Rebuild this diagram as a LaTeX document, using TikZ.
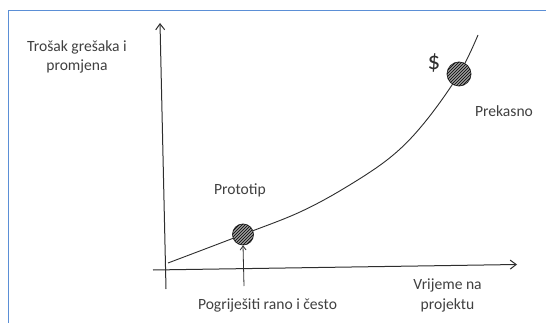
\documentclass[tikz,border=0pt]{standalone}
\usepackage{fontspec}
\setmainfont{Carlito}
\usetikzlibrary{arrows.meta,patterns}
\definecolor{frameblue}{HTML}{5B8FD6}
\definecolor{txt}{HTML}{404040}
\definecolor{ink}{HTML}{2E2E2E}
\tikzset{
  lbl/.style={text=txt,font=\fontsize{15.6}{19.5}\selectfont,align=center,inner sep=0pt},
  axis/.style={draw=ink,line width=1pt,-{Straight Barb[length=6pt,width=9pt]}},
  blob/.style={circle,draw=ink,line width=0.8pt,fill=gray!80,
     postaction={pattern=north east lines,pattern color=black}},
}
\begin{document}
\begin{tikzpicture}[x=1pt,y=-1pt]
\useasboundingbox (0,0) rectangle (546,323);
\fill[white] (0,0) rectangle (546,323);
\draw[frameblue,line width=1.3pt] (8.5,323) -- (8.5,10.5) -- (546,10.5);
% axes
\coordinate (yb) at (166,289);
\coordinate (yt) at (160,23);
\coordinate (xl) at (153,270);
\coordinate (xr) at (517,264.5);
\draw[axis] (yb) -- (yt);
\draw[axis] (xl) -- (xr);
% curve
\draw[ink,line width=0.9pt] plot[smooth,tension=0.6] coordinates
  {(168,263) (243,234.5) (300,212) (348,186) (392,156) (425,122) (459,74) (478,35)};
\node[blob,minimum size=21pt,inner sep=0pt] (proto) at (243,234.5) {};
\node[blob,minimum size=24pt,inner sep=0pt] (late) at (459,74) {};
% arrow to prototype
\coordinate (pa) at (244,286);
\draw[ink,line width=0.8pt,-{Straight Barb[length=4pt,width=6pt]}] (pa) -- (proto.south);
% labels
\node[lbl] (ylab1) at (77,47) {Trošak grešaka i};
\node[lbl] (ylab2) at (77,66) {promjena};
\node[lbl] (plab) at (240,190) {Prototip};
\node[lbl] (klab) at (504,111.5) {Prekasno};
\node[lbl] (elab) at (267.5,305) {Pogriješiti rano i često};
\node[lbl] (xlab1) at (447.5,285) {Vrijeme na};
\node[lbl] (xlab2) at (447.5,305) {projektu};
\node[text=ink,font=\fontsize{25}{25}\selectfont,inner sep=0pt] (dollar) at (434,63) {\$};
\end{tikzpicture}
\end{document}
